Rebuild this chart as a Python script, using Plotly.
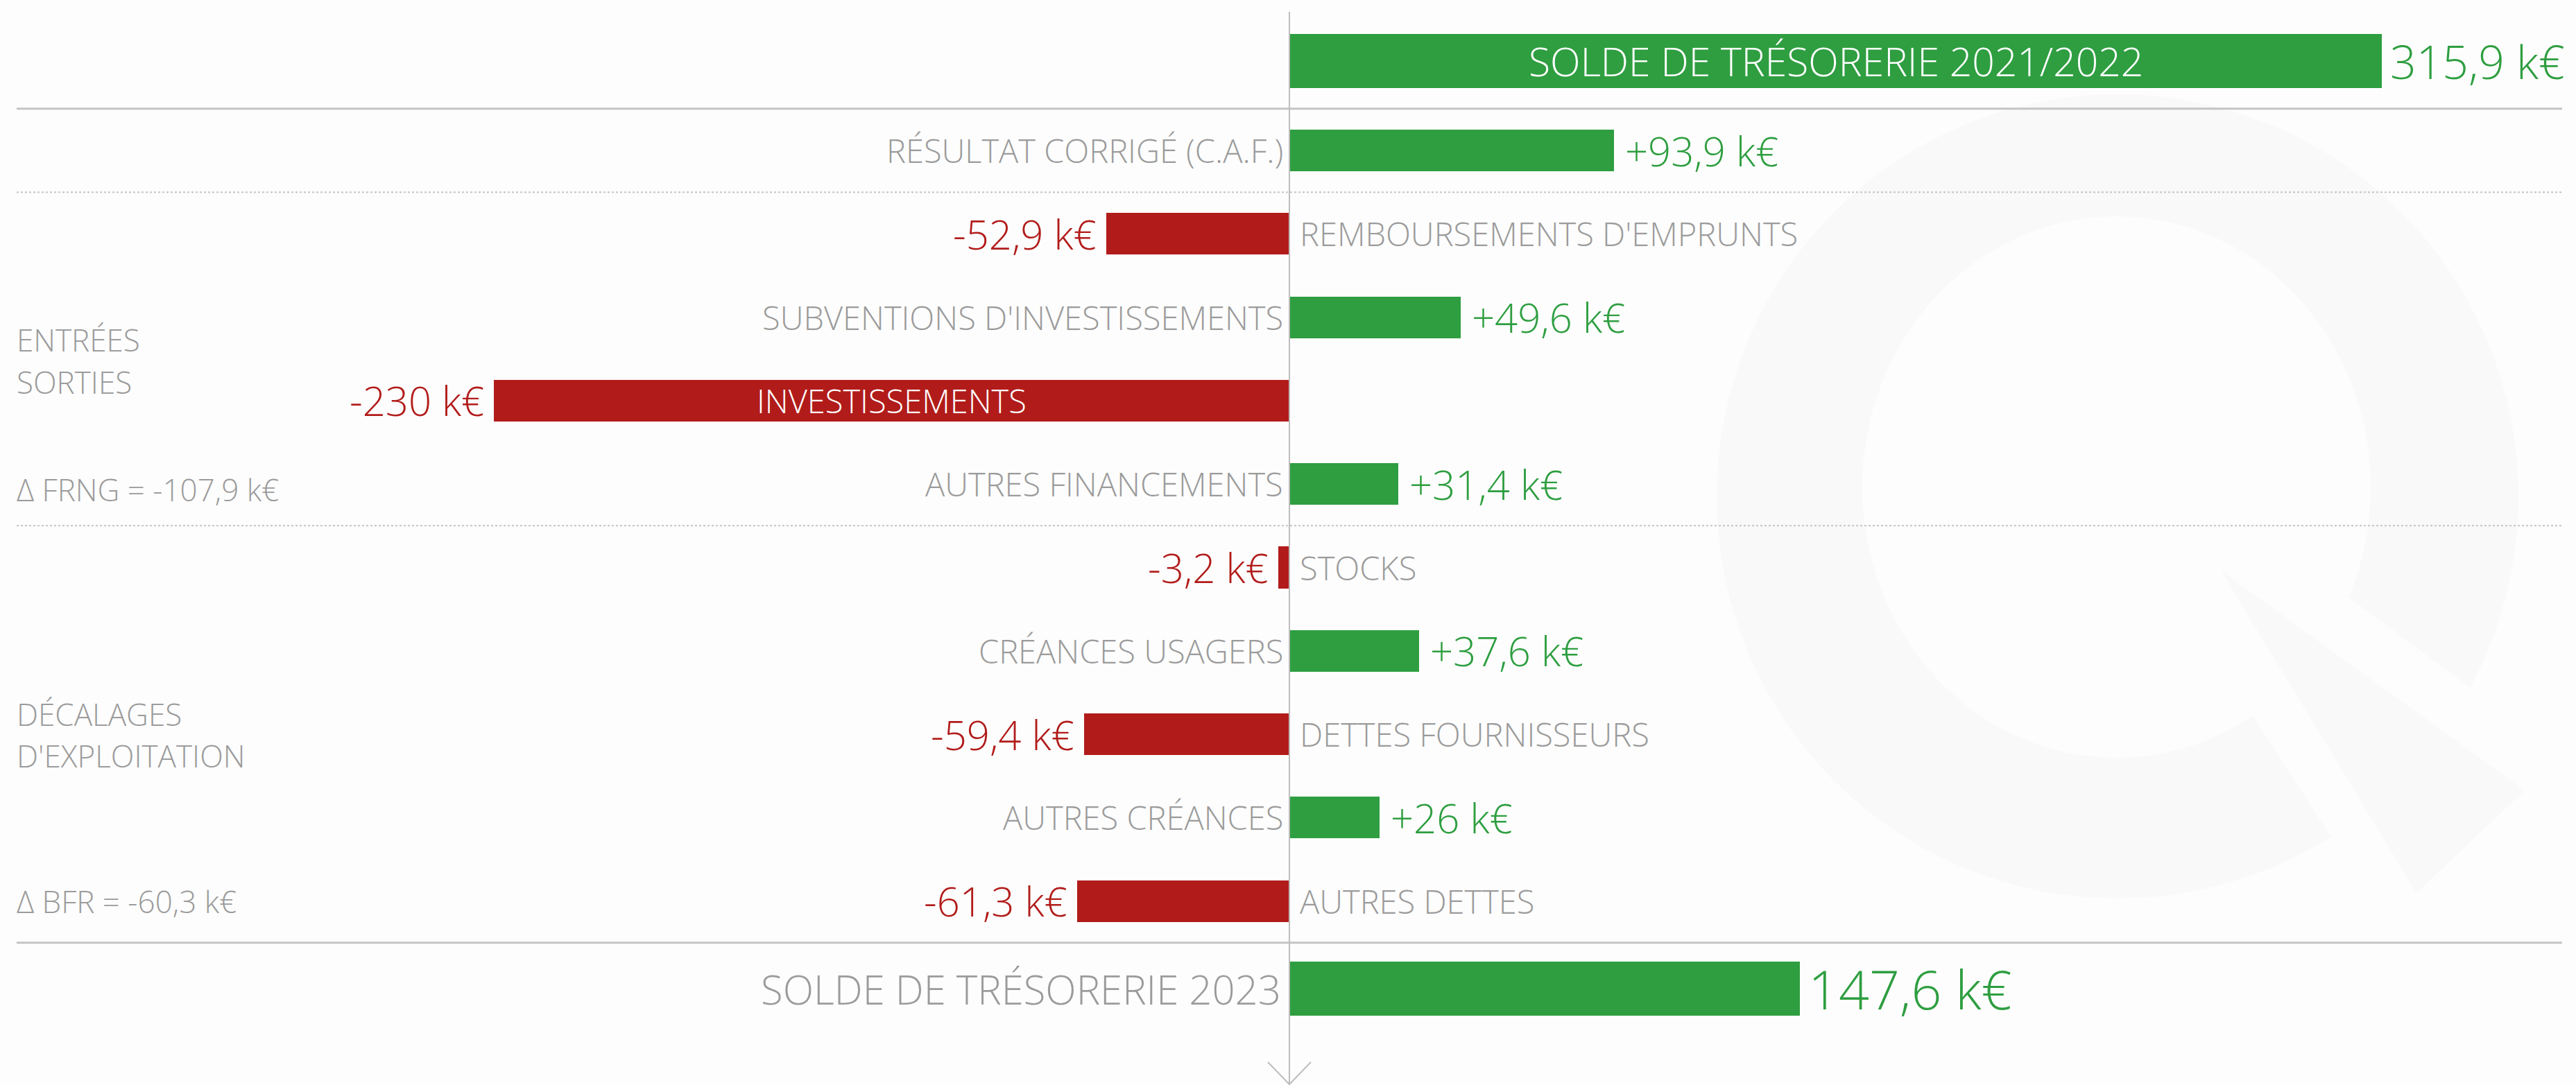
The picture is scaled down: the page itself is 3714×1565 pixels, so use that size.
import plotly.graph_objects as go

# ---------------- data ----------------
categories = [
    "SOLDE DE TRÉSORERIE 2021/2022",
    "RÉSULTAT CORRIGÉ (C.A.F.)",
    "REMBOURSEMENTS D'EMPRUNTS",
    "SUBVENTIONS D'INVESTISSEMENTS",
    "INVESTISSEMENTS",
    "AUTRES FINANCEMENTS",
    "STOCKS",
    "CRÉANCES USAGERS",
    "DETTES FOURNISSEURS",
    "AUTRES CRÉANCES",
    "AUTRES DETTES",
    "SOLDE DE TRÉSORERIE 2023",
]
values = [315.9, 93.9, -52.9, 49.6, -230.0, 31.4, -3.2, 37.6, -59.4, 26.0, -61.3, 147.6]
is_total = [True] + [False] * 10 + [True]

group_labels = ["ENTRÉES", "SORTIES", "Δ FRNG = -107,9 k€",
                "DÉCALAGES", "D'EXPLOITATION", "Δ BFR = -60,3 k€"]

# ---------------- style / layout ----------------
W, H = 3714, 1565
FONT = "Open Sans"
GREEN = "#2E9E40"
RED = "#B11C1A"
GRAY_TXT = "#9B9B9B"
LINE = "#C4C4C4"
BG = "#FDFDFD"
WM = "#F9F9F9"

X0_PX = 1859.0          # pixel of zero
PX_PER_K = 4.986        # pixels per k€
ROW0_PX = 96.7          # pixel of row index 0
ROW_PX = 120.3          # pixels per row

x_range = [(0 - X0_PX) / PX_PER_K, (W - X0_PX) / PX_PER_K]
y_range = [(H - ROW0_PX) / ROW_PX, (0 - ROW0_PX) / ROW_PX]


def yd(px):
    return (px - ROW0_PX) / ROW_PX


# row positions: uniform rows, totals nudged slightly outward
pos = list(range(len(categories)))
pos[0] = pos[0] - 0.075
pos[-1] = pos[-1] + 0.05
widths = [0.65 if t else 0.5 for t in is_total]
colors = [GREEN if v >= 0 else RED for v in values]

LBL = 47     # category label size
VAL = 58     # value label size


def fmt(v, sign=True):
    s = f"{abs(v):.1f}".replace(".", ",")
    if s.endswith(",0"):
        s = s[:-2]
    pre = ("+" if v >= 0 else "-") if sign else ("" if v >= 0 else "-")
    return f"{pre}{s} k€"


def fnt(size, color):
    return dict(size=size, color=color, family=FONT, weight=300)


fig = go.Figure()

fig.add_trace(go.Bar(
    x=values, y=pos, orientation="h", width=widths,
    marker=dict(color=colors, line=dict(width=0)),
    hoverinfo="skip", showlegend=False,
))

ann = []
for i, (c, v, t, p) in enumerate(zip(categories, values, is_total, pos)):
    if t:
        if i == 0:
            ann.append(dict(x=v, y=p, text=fmt(v, sign=False), xanchor="left", xshift=10,
                            font=fnt(66, GREEN)))
            ann.append(dict(x=v / 2, y=p, text=c, xanchor="center", font=fnt(57, "white")))
        else:
            ann.append(dict(x=v, y=p, text=fmt(v, sign=False), xanchor="left", xshift=10,
                            font=fnt(77, GREEN)))
            ann.append(dict(x=0, y=p, text=c, xanchor="right", xshift=-10,
                            font=fnt(58, GRAY_TXT)))
        continue
    col = GREEN if v >= 0 else RED
    if v >= 0:
        ann.append(dict(x=v, y=p, text=fmt(v), xanchor="left", xshift=14, font=fnt(VAL, col)))
        ann.append(dict(x=0, y=p, text=c, xanchor="right", xshift=-7, font=fnt(LBL, GRAY_TXT)))
    else:
        ann.append(dict(x=v, y=p, text=fmt(v), xanchor="right", xshift=-12, font=fnt(VAL, col)))
        if abs(v) > 150:
            ann.append(dict(x=v / 2, y=p, text=c, xanchor="center", font=fnt(LBL, "white")))
        else:
            ann.append(dict(x=0, y=p, text=c, xanchor="left", xshift=13, font=fnt(LBL, GRAY_TXT)))

group_px = [490, 551, 706, 1030, 1090, 1300]
for g, gp in zip(group_labels, group_px):
    ann.append(dict(xref="paper", x=22 / W, y=yd(gp), text=g, xanchor="left",
                    font=fnt(44, GRAY_TXT)))

for a in ann:
    a.setdefault("xref", "x")
    a["yref"] = "y"
    a["showarrow"] = False
    a["yanchor"] = "middle"

shapes = []


def P(x, y):
    return f"{x / W:.5f},{1 - y / H:.5f}"


# watermark "Q"
shapes.append(dict(type="circle", xref="paper", yref="paper", layer="below",
                   x0=2475 / W, x1=3631 / W, y0=1 - 1296 / H, y1=1 - 136 / H,
                   fillcolor=WM, line=dict(width=0)))
shapes.append(dict(type="circle", xref="paper", yref="paper", layer="below",
                   x0=2685 / W, x1=3418 / W, y0=1 - 1093 / H, y1=1 - 312 / H,
                   fillcolor=BG, line=dict(width=0)))
shapes.append(dict(type="path", xref="paper", yref="paper", layer="below",
                   path=f"M{P(3384, 860)} L{P(3710, 1102)} L{P(3450, 1345)} L{P(3240, 1020)} Z",
                   fillcolor=BG, line=dict(width=0)))
shapes.append(dict(type="path", xref="paper", yref="paper", layer="below",
                   path=f"M{P(3202, 823)} L{P(3640, 1140)} L{P(3484, 1288)} Z",
                   fillcolor=WM, line=dict(width=0)))

# separators
for yv, dash, wdt in [(0.5, "solid", 3), (1.5, "dot", 2), (5.5, "dot", 2), (10.5, "solid", 3)]:
    shapes.append(dict(type="line", xref="paper", yref="y", x0=24 / W, x1=3694 / W,
                       y0=yv, y1=yv, line=dict(color=LINE, width=wdt, dash=dash), layer="above"))

# central axis with arrow head
shapes.append(dict(type="line", xref="x", yref="paper", x0=0, x1=0, y0=1 - 17 / H, y1=0,
                   line=dict(color="#BDBDBD", width=2), layer="above"))
shapes.append(dict(type="path", xref="paper", yref="paper",
                   path=f"M{P(1828, 1532)} L{P(1859, 1564)} L{P(1890, 1532)}",
                   line=dict(color="#BDBDBD", width=2), layer="above"))

fig.update_layout(
    width=W, height=H,
    margin=dict(l=0, r=0, t=0, b=0, pad=0),
    paper_bgcolor=BG, plot_bgcolor="rgba(0,0,0,0)",
    xaxis=dict(range=x_range, visible=False, fixedrange=True),
    yaxis=dict(range=y_range, visible=False, fixedrange=True),
    bargap=0, annotations=ann, shapes=shapes,
    font=dict(family=FONT),
)

fig.write_html("out.html", config={"displayModeBar": False},
               post_script="document.body.style.margin='0';document.body.style.overflow='hidden';")
